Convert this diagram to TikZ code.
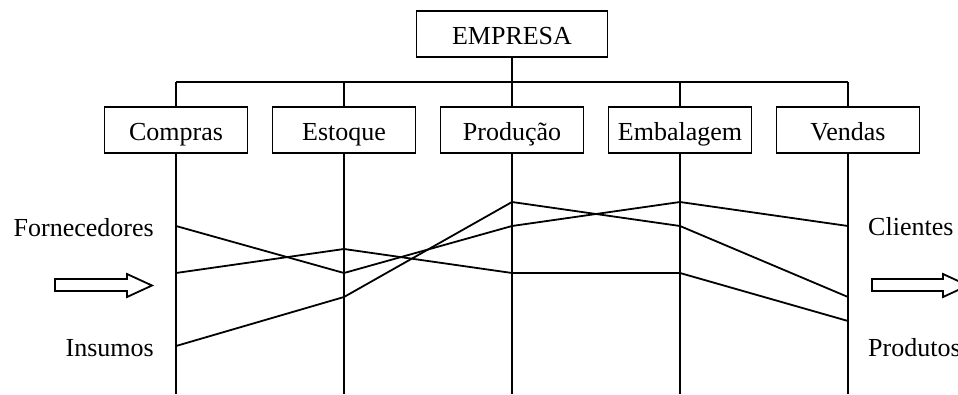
\documentclass[tikz,border=0pt]{standalone}
\usepackage{fontspec}
\setmainfont{Liberation Serif}
\begin{document}
\begin{tikzpicture}[x=1pt,y=-1pt,
  every node/.style={font=\fontsize{26}{30}\selectfont},
  unitbox/.style={draw,line width=1.8pt,inner sep=0pt,minimum width=143pt,
    text height=34pt,text depth=12.5pt},
  orgline/.style={line width=1.8pt},
  flowline/.style={line width=1.8pt,line join=miter},
  hollowarrow/.style={draw,line width=1.8pt,fill=white,line join=miter},
  sidelabel/.style={inner sep=0pt}]
\useasboundingbox (0,0) rectangle (958,394);

% top of the hierarchy
\node[unitbox,minimum width=191pt] (empresa) at (512,34) {EMPRESA};

% departments
\node[unitbox] (compras)   at (176,130) {Compras};
\node[unitbox] (estoque)   at (344,130) {Estoque};
\node[unitbox] (producao)  at (512,130) {Produção};
\node[unitbox] (embalagem) at (680,130) {Embalagem};
\node[unitbox] (vendas)    at (848,130) {Vendas};

% bus from EMPRESA to the departments
\coordinate (busL) at (176,82);
\coordinate (busR) at (848,82);
\draw[orgline] (busL) -- (busR);
\draw[orgline] (empresa.south) -- (empresa.south |- busL);
\foreach \d in {compras,estoque,producao,embalagem,vendas}
  \draw[orgline] (\d.north |- busL) -- (\d.north);

% vertical axes below each department
\foreach \d in {compras,estoque,producao,embalagem,vendas}{
  \coordinate (\d-end) at (\d.south |- 0,394);
  \draw[orgline] (\d.south) -- (\d-end);
}

% points on the axes
\coordinate (a1) at (176,226); \coordinate (a2) at (344,273);
\coordinate (a3) at (512,226); \coordinate (a4) at (680,202);
\coordinate (a5) at (848,226);
\coordinate (b1) at (176,273); \coordinate (b2) at (344,249);
\coordinate (b3) at (512,273); \coordinate (b4) at (680,273);
\coordinate (b5) at (848,321);
\coordinate (c1) at (176,346); \coordinate (c2) at (344,297);
\coordinate (c3) at (512,202); \coordinate (c4) at (680,226);
\coordinate (c5) at (848,297);

% flows across the departments
\draw[flowline] (a1) -- (a2) -- (a3) -- (a4) -- (a5);
\draw[flowline] (b1) -- (b2) -- (b3) -- (b4) -- (b5);
\draw[flowline] (c1) -- (c2) -- (c3) -- (c4) -- (c5);

% side labels
\node[sidelabel,anchor=base east] (fornec)   at (154,236) {Fornecedores};
\node[sidelabel,anchor=base east] (insumos)  at (154,356) {Insumos};
\node[sidelabel,anchor=base west] (clientes) at (868,235) {Clientes};
\node[sidelabel,anchor=base west] (produtos) at (868,356) {Produtos};

% hollow block arrows
\draw[hollowarrow] (55,279) -- (127,279) -- (127,274) -- (152,285.5)
  -- (127,297) -- (127,291) -- (55,291) -- cycle;
\draw[hollowarrow] (872,279) -- (943,279) -- (943,274) -- (968,285.5)
  -- (943,297) -- (943,291) -- (872,291) -- cycle;
\end{tikzpicture}
\end{document}
